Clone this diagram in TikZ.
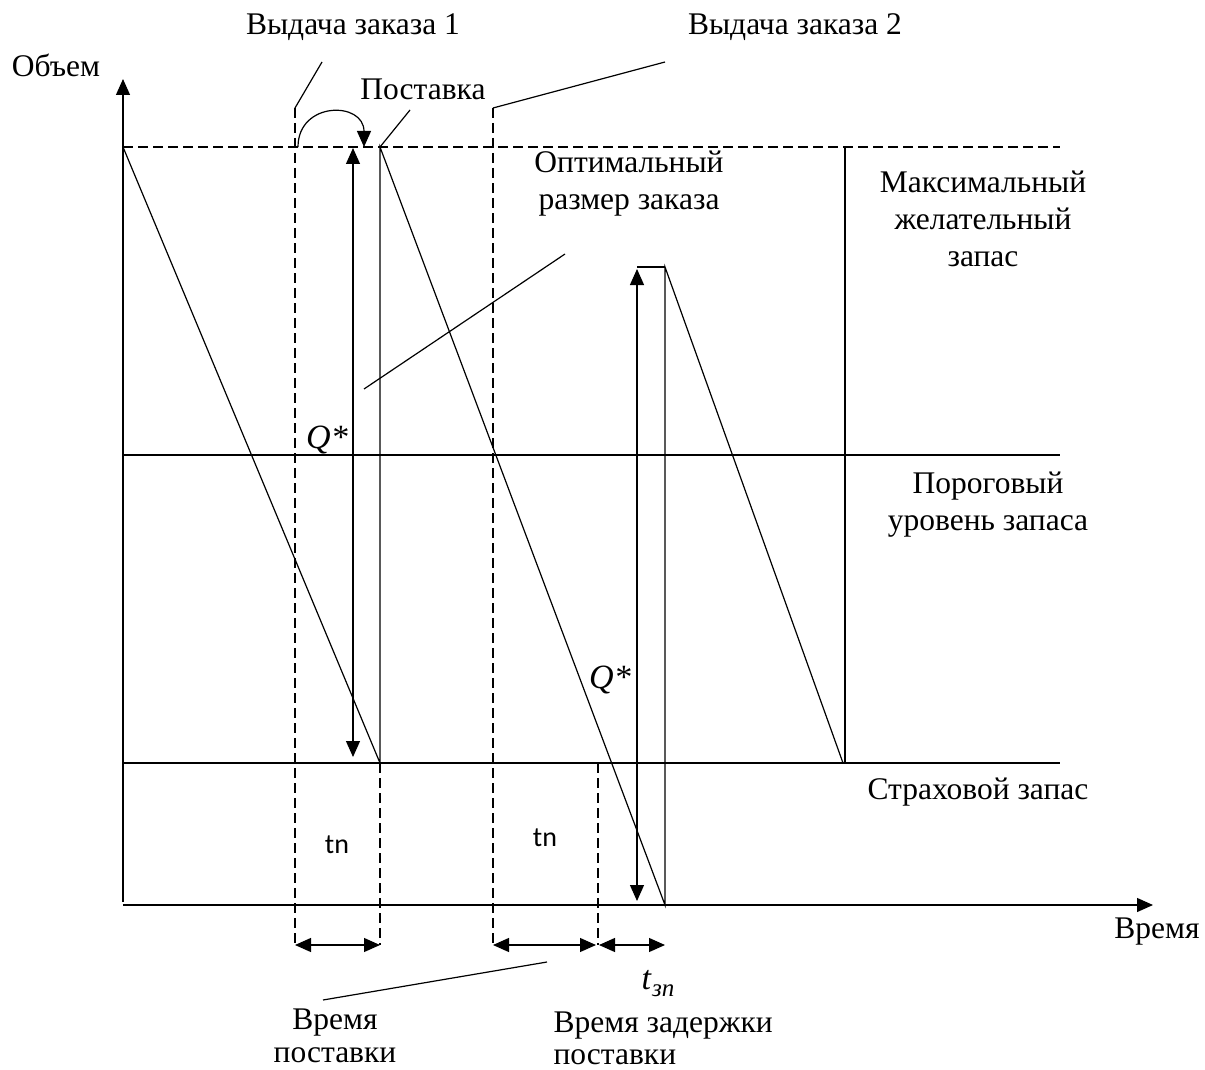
\documentclass[tikz,border=0pt]{standalone}
\usepackage{fontspec}
\setmainfont{Liberation Serif}
\newfontfamily\tnfont{Carlito}
\usetikzlibrary{arrows.meta}
\begin{document}
\begin{tikzpicture}[x=1pt,y=-1pt,
  line width=1.2pt,
  lbl/.style={font=\fontsize{31.5}{37}\selectfont, inner sep=0pt, align=center},
  dsh/.style={dash pattern=on 10pt off 5pt},
  tipe/.style={-{Triangle[length=16pt,width=14pt]}},
  dtip/.style={{Triangle[length=16pt,width=14pt]}-{Triangle[length=16pt,width=14pt]}},
]
\useasboundingbox (0,0) rectangle (1205,1070);

% axes
\coordinate (yb) at (123,902);
\coordinate (yt) at (123,79);
\coordinate (xl) at (123,905);
\coordinate (xr) at (1153,905);
\draw[tipe] (yb) -- (yt);
\draw[tipe] (xl) -- (xr);

% levels
\coordinate (m0) at (123,147);  \coordinate (m1) at (1060,147);
\coordinate (p0) at (123,455);  \coordinate (p1) at (1060,455);
\coordinate (s0) at (123,763);  \coordinate (s1) at (1060,763);
\draw[dsh] (m0) -- (m1);
\draw (p0) -- (p1);
\draw (s0) -- (s1);

% sawtooth
\coordinate (a1) at (380,763);
\coordinate (a2) at (380,147);
\coordinate (a3) at (665,905);
\coordinate (a4) at (665,267);
\coordinate (a4l) at (637,267);
\coordinate (a5) at (843,763);
\coordinate (a6) at (845,147);
\draw (m0) -- (a1) -- (a2) -- (a3) -- (a4) -- (a5);
\draw (a4l) -- (a4);
\draw (845,763) -- (a6);

% dashed verticals
\coordinate (d1t) at (295,108);  \coordinate (d1b) at (295,945);
\coordinate (d2t) at (380,763);  \coordinate (d2b) at (380,945);
\coordinate (d3t) at (493,108);  \coordinate (d3b) at (493,945);
\coordinate (d4t) at (598,763);  \coordinate (d4b) at (598,945);
\draw[dsh] (d1t) -- (d1b);
\draw[dsh] (d2t) -- (d2b);
\draw[dsh] (d3t) -- (d3b);
\draw[dsh] (d4t) -- (d4b);

% curved arrow
\coordinate (c0) at (298,147);
\coordinate (c1) at (364,147);
\draw[tipe] (c0) .. controls (298,101) and (364,101) .. (c1);

% Q* arrows
\coordinate (q1t) at (353,148); \coordinate (q1b) at (353,757);
\coordinate (q2t) at (637,269); \coordinate (q2b) at (637,901);
\draw[dtip] (q1t) -- (q1b);
\draw[dtip] (q2t) -- (q2b);

% bottom time arrows
\coordinate (b1) at (295,945); \coordinate (b2) at (380,945);
\coordinate (b3) at (493,945); \coordinate (b4) at (596,945);
\coordinate (b5) at (599,945); \coordinate (b6) at (665,945);
\draw[dtip] (b1) -- (b2);
\draw[dtip] (b3) -- (b4);
\draw[dtip] (b5) -- (b6);

% labels
\node[lbl] (vol) at (56,65) {Объем};
\node[lbl] (ord1) at (353,27) {Выдача заказа 1};
\node[lbl] (ord2) at (795,27) {Выдача заказа 2};
\node[lbl] (del) at (423,89) {Поставка};
\node[lbl] (opt) at (629,184) {Оптимальный\\размер заказа};
\node[lbl] (maxs) at (983,219) {Максимальный\\желательный\\запас};
\node[lbl] (thr) at (988,505) {Пороговый\\уровень запаса};
\node[lbl] (saf) at (978,792) {Страховой запас};
\node[lbl] (time) at (1157,932) {Время};
\node[lbl, font=\fontsize{34}{37}\selectfont] (qa) at (327,440) {\itshape Q*};
\node[lbl, font=\fontsize{34}{37}\selectfont] (qb) at (610,680) {\itshape Q*};
\node[inner sep=0pt, font=\tnfont\fontsize{28}{34}\selectfont] (tn1) at (337,845) {tn};
\node[inner sep=0pt, font=\tnfont\fontsize{28}{34}\selectfont] (tn2) at (545,838) {tn};
\node[lbl, font=\fontsize{34}{37}\selectfont] (tzp) at (658,984) {\itshape t\kern1pt\raisebox{-7pt}{\fontsize{25}{25}\selectfont зп}};
\node[lbl, font=\fontsize{31.5}{33}\selectfont] (dtime) at (335,1036) {Время\\поставки};
\node[lbl, font=\fontsize{31.5}{32}\selectfont, align=left, anchor=west] (delay) at (553,1038) {Время задержки\\поставки};

% leaders
\coordinate (l1) at (322,62);
\coordinate (l2) at (410,110);
\coordinate (l3) at (665,62);
\coordinate (l4a) at (565,254); \coordinate (l4b) at (364,389);
\coordinate (l5a) at (323,1000); \coordinate (l5b) at (547,962);
\draw (l1) -- (d1t);
\draw (l2) -- (a2);
\draw (d3t) -- (l3);
\draw (l4a) -- (l4b);
\draw (l5a) -- (l5b);
\end{tikzpicture}
\end{document}
